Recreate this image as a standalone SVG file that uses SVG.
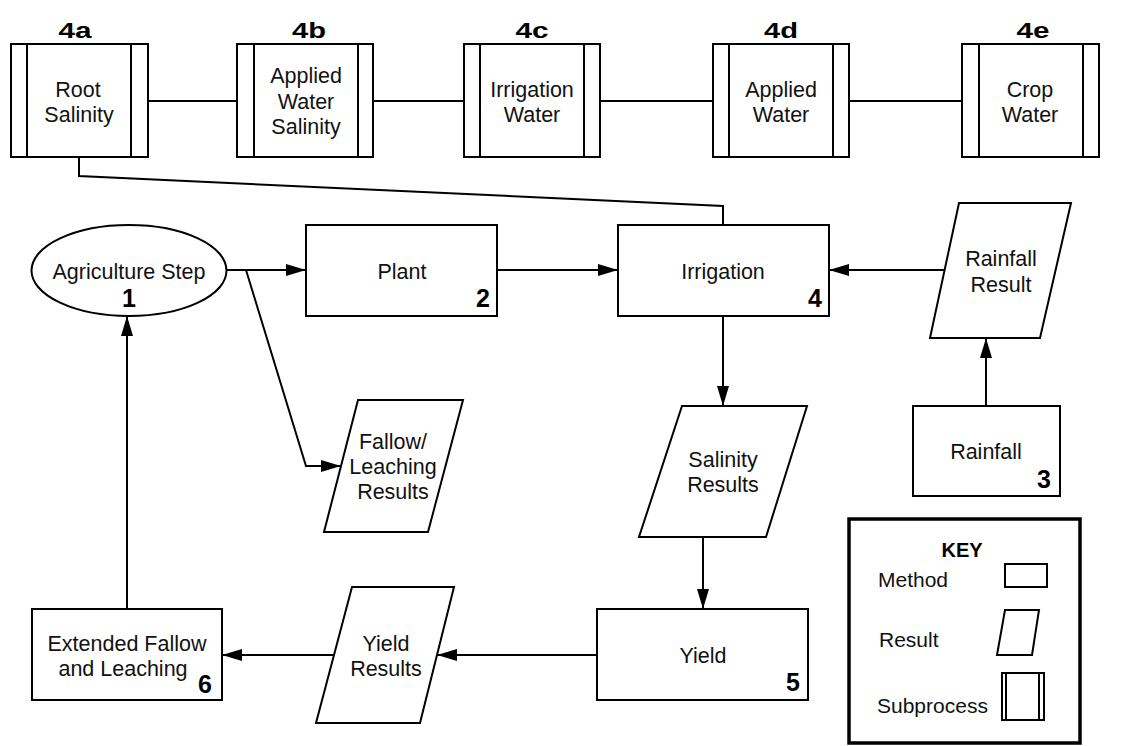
<svg xmlns="http://www.w3.org/2000/svg" width="1123" height="746" viewBox="0 0 1123 746">
<defs>
<marker id="arr" markerUnits="userSpaceOnUse" markerWidth="20" markerHeight="12" refX="20" refY="6" orient="auto">
<path d="M0,0 L20,6 L0,12 z" fill="#000"/>
</marker>
<style>
.s{fill:#fff;stroke:#000;stroke-width:2}
.l{fill:none;stroke:#000;stroke-width:2}
.t{font-family:"Liberation Sans",Arial,sans-serif;font-size:21.5px;fill:#111;text-anchor:middle}
.n{font-family:"Liberation Sans",Arial,sans-serif;font-size:25px;font-weight:bold;fill:#000;text-anchor:end}
.h{font-family:"Liberation Sans",Arial,sans-serif;font-size:22px;font-weight:bold;fill:#000;text-anchor:middle}
.k{font-family:"Liberation Sans",Arial,sans-serif;font-size:21px;fill:#111}
</style>
</defs>
<rect width="1123" height="746" fill="#fff"/>

<g id="connectors">
<line class="l" x1="148" y1="101" x2="237" y2="101"/>
<line class="l" x1="373" y1="101" x2="464" y2="101"/>
<line class="l" x1="600" y1="101" x2="713" y2="101"/>
<line class="l" x1="849" y1="101" x2="962" y2="101"/>
<polyline class="l" points="79,157 79,176 723,206 723,225"/>
<line class="l" x1="227" y1="270" x2="306" y2="270" marker-end="url(#arr)"/>
<polyline class="l" points="246,270 306,466 341,466" marker-end="url(#arr)"/>
<line class="l" x1="497" y1="270" x2="618" y2="270" marker-end="url(#arr)"/>
<line class="l" x1="946" y1="270" x2="829" y2="270" marker-end="url(#arr)"/>
<line class="l" x1="986" y1="406" x2="986" y2="338" marker-end="url(#arr)"/>
<line class="l" x1="723" y1="316" x2="723" y2="406" marker-end="url(#arr)"/>
<line class="l" x1="703" y1="537" x2="703" y2="609" marker-end="url(#arr)"/>
<line class="l" x1="597" y1="655" x2="437" y2="655" marker-end="url(#arr)"/>
<line class="l" x1="334" y1="655" x2="222" y2="655" marker-end="url(#arr)"/>
<line class="l" x1="127" y1="609" x2="127" y2="316" marker-end="url(#arr)"/>
</g>

<g id="sub4a">
<rect class="s" x="11" y="44" width="137" height="113"/>
<line class="l" x1="27" y1="44" x2="27" y2="157"/>
<line class="l" x1="131" y1="44" x2="131" y2="157"/>
<text class="h" x="75" y="38" textLength="33" lengthAdjust="spacingAndGlyphs">4a</text>
<text class="t" x="78" y="97">Root</text>
<text class="t" x="79" y="122">Salinity</text>
</g>
<g id="sub4b">
<rect class="s" x="237" y="44" width="136" height="113"/>
<line class="l" x1="254" y1="44" x2="254" y2="157"/>
<line class="l" x1="358" y1="44" x2="358" y2="157"/>
<text class="h" x="309" y="38" textLength="34" lengthAdjust="spacingAndGlyphs">4b</text>
<text class="t" x="306" y="83">Applied</text>
<text class="t" x="306" y="109">Water</text>
<text class="t" x="306" y="134">Salinity</text>
</g>
<g id="sub4c">
<rect class="s" x="464" y="44" width="136" height="113"/>
<line class="l" x1="480" y1="44" x2="480" y2="157"/>
<line class="l" x1="584" y1="44" x2="584" y2="157"/>
<text class="h" x="532" y="38" textLength="33" lengthAdjust="spacingAndGlyphs">4c</text>
<text class="t" x="532" y="97">Irrigation</text>
<text class="t" x="532" y="122">Water</text>
</g>
<g id="sub4d">
<rect class="s" x="713" y="44" width="136" height="113"/>
<line class="l" x1="729" y1="44" x2="729" y2="157"/>
<line class="l" x1="833" y1="44" x2="833" y2="157"/>
<text class="h" x="781" y="38" textLength="34" lengthAdjust="spacingAndGlyphs">4d</text>
<text class="t" x="781" y="97">Applied</text>
<text class="t" x="781" y="122">Water</text>
</g>
<g id="sub4e">
<rect class="s" x="962" y="44" width="137" height="113"/>
<line class="l" x1="979" y1="44" x2="979" y2="157"/>
<line class="l" x1="1083" y1="44" x2="1083" y2="157"/>
<text class="h" x="1033" y="38" textLength="33" lengthAdjust="spacingAndGlyphs">4e</text>
<text class="t" x="1030" y="97">Crop</text>
<text class="t" x="1030" y="122">Water</text>
</g>

<g id="agriculture">
<ellipse class="s" cx="129" cy="270.5" rx="97.5" ry="45.5"/>
<text class="t" x="129" y="279">Agriculture Step</text>
<text class="n" x="129" y="307" style="text-anchor:middle">1</text>
</g>
<g id="plant">
<rect class="s" x="306" y="225" width="191" height="91"/>
<text class="t" x="402" y="279">Plant</text>
<text class="n" x="490" y="307">2</text>
</g>
<g id="irrigation">
<rect class="s" x="618" y="225" width="211" height="91"/>
<text class="t" x="723" y="279">Irrigation</text>
<text class="n" x="822" y="307">4</text>
</g>
<g id="rainfallResult">
<polygon class="s" points="959,203 1071,203 1040,338 930,338"/>
<text class="t" x="1001" y="266">Rainfall</text>
<text class="t" x="1001" y="292">Result</text>
</g>
<g id="rainfall">
<rect class="s" x="913" y="406" width="147" height="90"/>
<text class="t" x="986" y="459">Rainfall</text>
<text class="n" x="1051" y="488">3</text>
</g>
<g id="fallowResults">
<polygon class="s" points="358,400 463,400 428,532 324,532"/>
<text class="t" x="393" y="449">Fallow/</text>
<text class="t" x="393" y="474">Leaching</text>
<text class="t" x="393" y="499">Results</text>
</g>
<g id="salinityResults">
<polygon class="s" points="682,406 807,406 766,537 639,537"/>
<text class="t" x="723" y="467">Salinity</text>
<text class="t" x="723" y="492">Results</text>
</g>
<g id="yield">
<rect class="s" x="597" y="609" width="211" height="91"/>
<text class="t" x="703" y="663">Yield</text>
<text class="n" x="800" y="691">5</text>
</g>
<g id="yieldResults">
<polygon class="s" points="352,587 454,587 420,723 316,723"/>
<text class="t" x="386" y="651">Yield</text>
<text class="t" x="386" y="676">Results</text>
</g>
<g id="extended">
<rect class="s" x="32" y="609" width="190" height="91"/>
<text class="t" x="127" y="651">Extended Fallow</text>
<text class="t" x="123" y="676">and Leaching</text>
<text class="n" x="212" y="693">6</text>
</g>

<g id="key">
<rect x="849" y="519" width="231" height="224" fill="#fff" stroke="#000" stroke-width="3.5"/>
<text class="h" x="962" y="557" style="font-size:20px">KEY</text>
<text class="k" x="878" y="587">Method</text>
<rect class="s" x="1005" y="564" width="42" height="23"/>
<text class="k" x="879" y="647">Result</text>
<polygon class="s" points="1005,610 1039,610 1032,655 997,655"/>
<text class="k" x="877" y="713">Subprocess</text>
<rect class="s" x="1002" y="673" width="42" height="47"/>
<line class="l" x1="1006" y1="673" x2="1006" y2="720"/>
<line class="l" x1="1039" y1="673" x2="1039" y2="720"/>
</g>
</svg>
